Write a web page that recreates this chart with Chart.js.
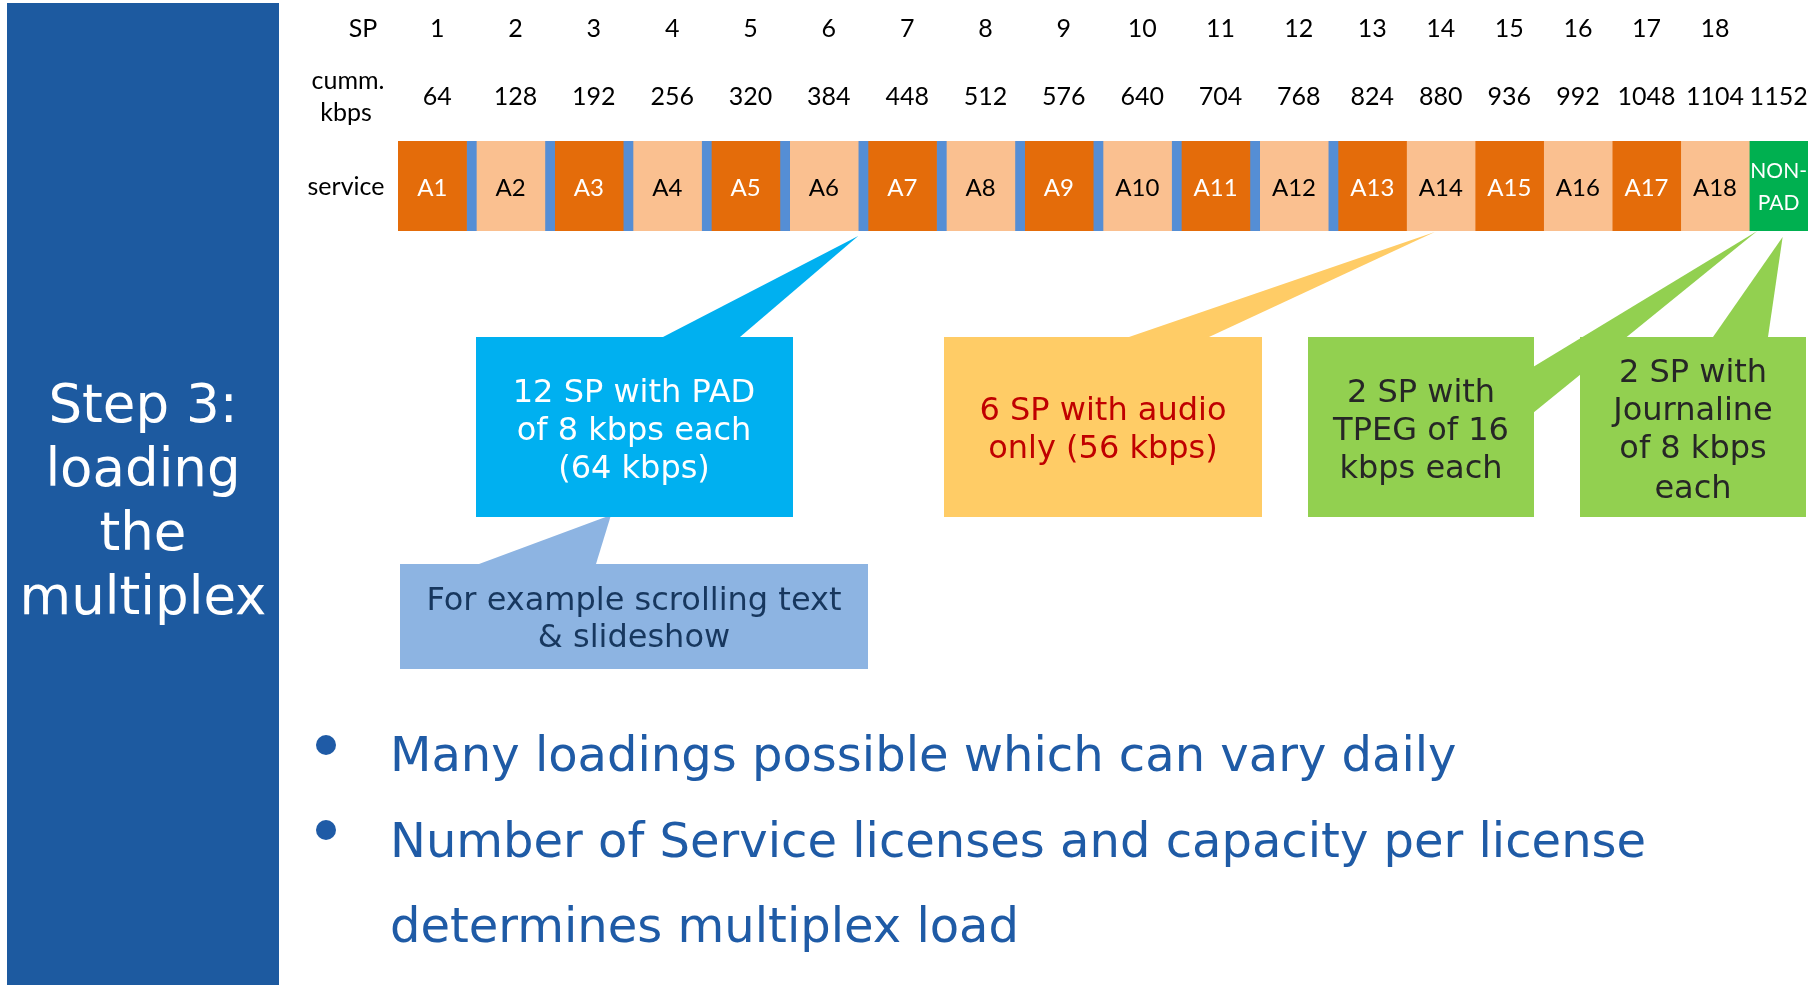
<!DOCTYPE html>
<html>
<head>
<meta charset="utf-8">
<title>Step 3: loading the multiplex</title>
<script src="https://cdn.jsdelivr.net/npm/chart.js@4.4.1/dist/chart.umd.min.js"></script>
<style>
  html, body { margin: 0; padding: 0; background: #ffffff; }
  body { width: 1808px; height: 985px; position: relative; overflow: hidden; font-family: "DejaVu Sans", Verdana, sans-serif; }
  #panel { position: absolute; left: 7px; top: 3px; width: 272px; height: 982px; background: #1D5AA0; }
  #title { position: absolute; left: 0; top: 369px; width: 272px; text-align: center; color: #ffffff; font-size: 53px; line-height: 64px; }
  #mux { position: absolute; left: 0; top: 0; }
  .dot { position: absolute; left: 316px; width: 20px; height: 20px; border-radius: 50%; background: #1F5BA6; }
  .bullet { position: absolute; left: 390px; color: #1F5BA6; font-size: 48px; line-height: 85px; white-space: nowrap; }
</style>
</head>
<body>
<div id="panel"><div id="title">Step 3:<br>loading<br>the<br>multiplex</div></div>
<canvas id="mux" width="1808" height="985"></canvas>
<div class="dot" style="top:735px"></div>
<div class="bullet" style="top:712px">Many loadings possible which can vary daily</div>
<div class="dot" style="top:820px"></div>
<div class="bullet" style="top:798px">Number of Service licenses and capacity per license<br>determines multiplex load</div>
<script>
// Service providers in the multiplex and their capacity (kbps)
const services   = ['A1','A2','A3','A4','A5','A6','A7','A8','A9','A10','A11','A12','A13','A14','A15','A16','A17','A18'];
const spLabels   = ['1','2','3','4','5','6','7','8','9','10','11','12','13','14','15','16','17','18'];
const audioKbps  = [56,56,56,56,56,56,56,56,56,56,56,56,56,56,56,56,56,56];
const padKbps    = [8,8,8,8,8,8,8,8,8,8,8,8,0,0,0,0,0,0];
const nonPadKbps = 48;
const nonPadName = ['NON-', 'PAD'];

const COL_DARK = '#E46C0A', COL_LIGHT = '#FAC090', COL_PAD = '#558ED5', COL_NONPAD = '#00B050';

// Build one stacked dataset per segment: audio, then its PAD slice
const datasets = [];
services.forEach((name, i) => {
  datasets.push({ label: name, segName: [name], data: [audioKbps[i]],
                  backgroundColor: i % 2 === 0 ? COL_DARK : COL_LIGHT,
                  textColor: i % 2 === 0 ? '#ffffff' : '#000000' });
  if (padKbps[i] > 0) {
    datasets.push({ label: 'PAD ' + spLabels[i], data: [padKbps[i]], backgroundColor: COL_PAD });
  }
});
datasets.push({ label: 'NON-PAD', segName: nonPadName, data: [nonPadKbps], backgroundColor: COL_NONPAD, textColor: '#ffffff' });

// Column ranges (one per SP plus the non-PAD block) with cumulative totals
const columns = [];
let cum = 0;
services.forEach((name, i) => {
  const start = cum;
  cum += audioKbps[i] + padKbps[i];
  columns.push({ sp: spLabels[i], start, end: cum, audioEnd: start + audioKbps[i] });
});
columns.push({ sp: '', start: cum, end: cum + nonPadKbps });
cum += nonPadKbps;
const totalKbps = cum;

const LABEL_FONT = '25px Lato, "Open Sans", sans-serif';
const SEG_FONT = '24px Lato, "Open Sans", sans-serif';
const NOTE_FONT = '32px "DejaVu Sans", Verdana, sans-serif';

// Callout boxes pointing into the multiplex bar
const col6 = columns[5], col14 = columns[13], colNP = columns[18];
const callouts = [
  { fill: '#00B0F0', box: [476, 337, 317, 180], color: '#ffffff',
    lines: ['12 SP with PAD', 'of 8 kbps each', '(64 kbps)'], cx: 634, ys: [394, 432, 470],
    wedge: [[663, 337], [740, 337]], tip: { value: col6.audioEnd, dx: 0, y: 236 } },
  { fill: '#8DB4E2', box: [400, 564, 468, 105], color: '#17375E',
    lines: ['For example scrolling text', '& slideshow'], cx: 634, ys: [602, 639],
    wedge: [[479, 564], [596, 564]], tip: { px: 611, y: 515 } },
  { fill: '#FFCC66', box: [944, 337, 318, 180], color: '#C00000',
    lines: ['6 SP with audio', 'only (56 kbps)'], cx: 1103, ys: [412, 450],
    wedge: [[1129, 337], [1209, 337]], tip: { value: (col14.start + col14.end) / 2, dx: -6, y: 232 } },
  { fill: '#92D050', box: [1308, 337, 226, 180], color: '#262626',
    lines: ['2 SP with', 'TPEG of 16', 'kbps each'], cx: 1421, ys: [394, 432, 470],
    wedge: [[1533, 413], [1533, 367]], tip: { value: colNP.start, dx: 8, y: 231 } },
  { fill: '#92D050', box: [1580, 337, 226, 180], color: '#262626',
    lines: ['2 SP with', 'Journaline', 'of 8 kbps', 'each'], cx: 1693, ys: [374, 412, 450, 490],
    wedge: [[1713, 337], [1768, 337]], tip: { value: (colNP.start + colNP.end) / 2, dx: 4, y: 237 } }
];

const muxPlugin = {
  id: 'muxLabels',
  afterDatasetsDraw(chart) {
    const ctx = chart.ctx, xs = chart.scales.x;
    ctx.save();
    ctx.textAlign = 'center';
    ctx.textBaseline = 'middle';

    // names inside the segments
    chart.data.datasets.forEach((ds, i) => {
      if (!ds.segName) return;
      const bar = chart.getDatasetMeta(i).data[0];
      const p = bar.getProps(['x', 'base', 'y'], true);
      const cx = (p.x + p.base) / 2;
      ctx.fillStyle = ds.textColor;
      if (ds.segName.length === 1) {
        ctx.font = SEG_FONT;
        ctx.fillText(ds.segName[0], cx, p.y + 2);
      } else {
        ctx.font = '21px Lato, "Open Sans", sans-serif';
        ctx.fillText(ds.segName[0], cx, p.y - 15);
        ctx.fillText(ds.segName[1], cx, p.y + 17);
      }
    });

    // row headings
    ctx.font = LABEL_FONT;
    ctx.fillStyle = '#000000';
    ctx.fillText('SP', 363, 29);
    ctx.fillText('cumm.', 348, 81);
    ctx.fillText('kbps', 346, 113);
    ctx.fillText('service', 346, 187);

    // SP numbers and cumulative kbps above each column
    columns.forEach(c => {
      const cx = xs.getPixelForValue((c.start + c.end) / 2);
      if (c.sp) ctx.fillText(c.sp, cx, 29);
      ctx.fillText(String(c.end), cx, 97);
    });

    // callouts: wedges, boxes, then text
    const tipPoint = t => [t.px !== undefined ? t.px : xs.getPixelForValue(t.value) + t.dx, t.y];
    callouts.forEach(c => {
      const tp = tipPoint(c.tip);
      ctx.fillStyle = c.fill;
      ctx.beginPath();
      ctx.moveTo(c.wedge[0][0], c.wedge[0][1]);
      ctx.lineTo(tp[0], tp[1]);
      ctx.lineTo(c.wedge[1][0], c.wedge[1][1]);
      ctx.closePath();
      ctx.fill();
    });
    callouts.forEach(c => {
      ctx.fillStyle = c.fill;
      ctx.fillRect(c.box[0], c.box[1], c.box[2], c.box[3]);
    });
    ctx.font = NOTE_FONT;
    callouts.forEach(c => {
      ctx.fillStyle = c.color;
      c.lines.forEach((line, k) => ctx.fillText(line, c.cx, c.ys[k]));
    });
    ctx.restore();
  }
};

new Chart(document.getElementById('mux'), {
  type: 'bar',
  data: { labels: ['service'], datasets },
  options: {
    indexAxis: 'y',
    responsive: false,
    animation: false,
    devicePixelRatio: 1,
    layout: { padding: { left: 398, right: 0, top: 141, bottom: 754 } },
    datasets: { bar: { barPercentage: 1, categoryPercentage: 1, borderWidth: 0, borderSkipped: false } },
    scales: {
      x: { type: 'linear', stacked: true, min: 0, max: totalKbps, display: false },
      y: { stacked: true, display: false }
    },
    plugins: { legend: { display: false }, tooltip: { enabled: false } }
  },
  plugins: [muxPlugin]
});
</script>
</body>
</html>
